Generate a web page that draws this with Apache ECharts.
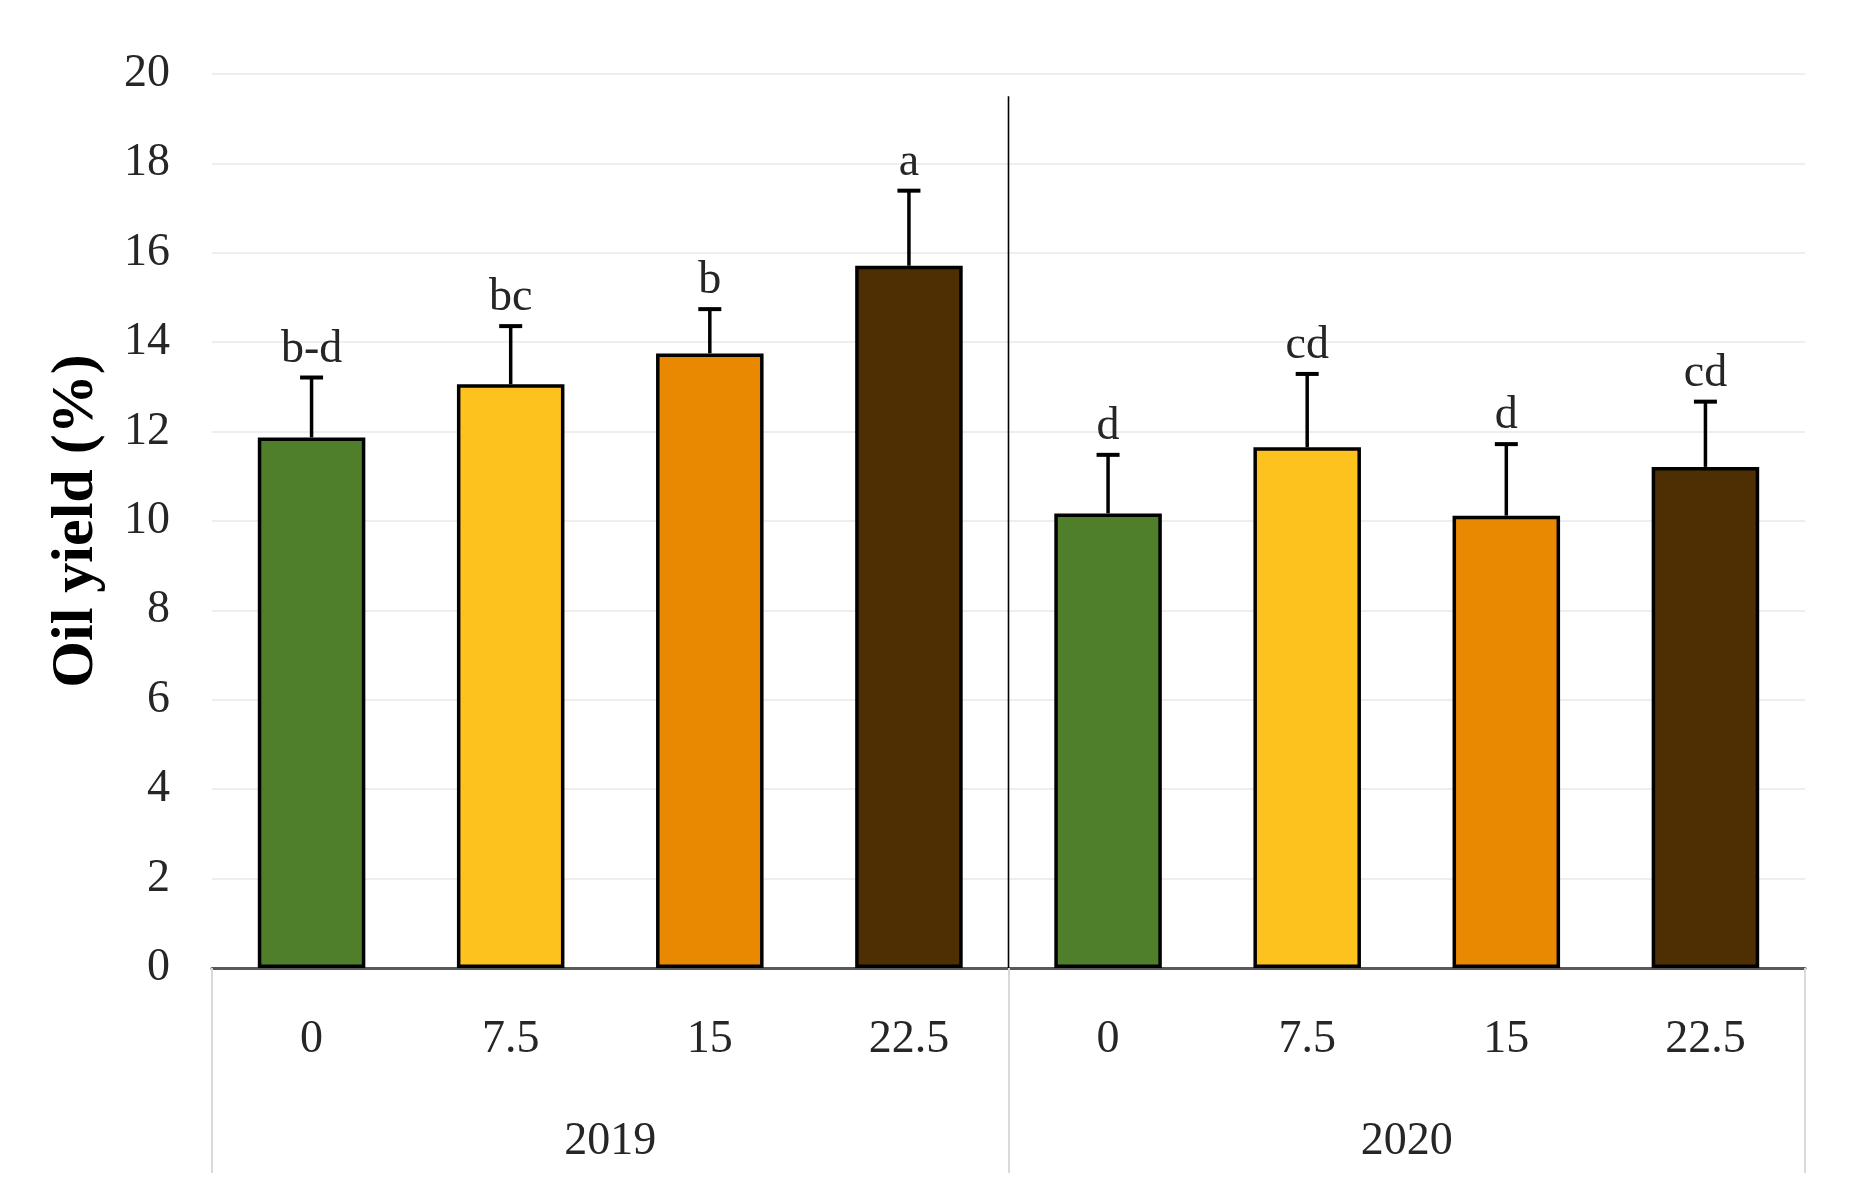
<!DOCTYPE html>
<html>
<head>
<meta charset="utf-8">
<script src="https://cdn.jsdelivr.net/npm/echarts@6/dist/echarts.min.js"></script>
<style>html,body{margin:0;padding:0;background:#fff;}#chart{width:1855px;height:1200px;}</style>
</head>
<body>
<div id="chart"></div>
<script>
const doses = ['0', '7.5', '15', '22.5', '0', '7.5', '15', '22.5'];
const years = ['2019', '2020'];
const oilYield = [11.87, 13.06, 13.75, 15.71, 10.17, 11.65, 10.12, 11.21];
const errorUpper = [13.21, 14.36, 14.74, 17.39, 11.48, 13.29, 11.72, 12.67];
const letters = ['b-d', 'bc', 'b', 'a', 'd', 'cd', 'd', 'cd'];
const barColors = ['#4f7f2b', '#fec21f', '#e88901', '#4d2f03', '#4f7f2b', '#fec21f', '#e88901', '#4d2f03'];
const yTicks = { min: 0, max: 20, interval: 2 };
// divider between the two years: between category 3 and 4, up to this y value
const yearDivider = [[3, 4, 19.5]];

const FONT = '"Liberation Serif", "DejaVu Serif", serif';
const chart = echarts.init(document.getElementById('chart'));

chart.setOption({
  animation: false,
  backgroundColor: '#ffffff',
  grid: { left: 212, right: 50, top: 74, bottom: 232, containLabel: false },
  xAxis: [
    {
      type: 'category',
      data: doses,
      position: 'bottom',
      axisLine: { show: true, lineStyle: { color: '#595959', width: 3 } },
      axisTick: { show: false },
      axisLabel: { fontFamily: FONT, fontSize: 46, color: '#262626', margin: 49 },
      splitLine: { show: false }
    },
    {
      type: 'category',
      data: years,
      position: 'bottom',
      axisLine: { show: false },
      axisTick: { show: true, alignWithLabel: false, length: 205, lineStyle: { color: '#d9d9d9', width: 2 } },
      axisLabel: { fontFamily: FONT, fontSize: 46, color: '#262626', margin: 151 },
      splitLine: { show: false }
    }
  ],
  yAxis: {
    type: 'value',
    min: yTicks.min, max: yTicks.max, interval: yTicks.interval,
    name: 'Oil yield (%)',
    nameLocation: 'middle',
    nameRotate: 90,
    nameGap: 106,
    nameTextStyle: { fontFamily: FONT, fontSize: 60, fontWeight: 'bold', color: '#000' },
    axisLine: { show: false },
    axisTick: { show: false },
    axisLabel: { fontFamily: FONT, fontSize: 46, color: '#262626', margin: 42 },
    splitLine: { show: true, lineStyle: { color: '#eeeeee', width: 2 } }
  },
  series: [
    {
      type: 'bar',
      xAxisIndex: 0,
      barWidth: '54%',
      data: oilYield.map((v, i) => ({ value: v, itemStyle: { color: barColors[i] } })),
      itemStyle: { borderColor: '#000', borderWidth: 3.5 },
      z: 2
    },
    {
      type: 'custom',
      xAxisIndex: 0,
      data: yearDivider,
      renderItem: function (params, api) {
        const a = api.coord([api.value(0), 0]);
        const b = api.coord([api.value(1), 0]);
        const t = api.coord([api.value(0), api.value(2)]);
        const x = (a[0] + b[0]) / 2;
        return { type: 'line', shape: { x1: x, y1: a[1], x2: x, y2: t[1] }, style: { stroke: '#000', lineWidth: 1.6 } };
      },
      z: 1
    },
    {
      type: 'custom',
      xAxisIndex: 0,
      data: oilYield.map((v, i) => [i, v, errorUpper[i]]),
      renderItem: function (params, api) {
        const i = api.value(0);
        const base = api.coord([i, api.value(1)]);
        const top = api.coord([i, api.value(2)]);
        const cap = 11.5;
        return {
          type: 'group',
          children: [
            { type: 'line', shape: { x1: base[0], y1: base[1], x2: top[0], y2: top[1] }, style: { stroke: '#000', lineWidth: 3.5 } },
            { type: 'line', shape: { x1: top[0] - cap, y1: top[1], x2: top[0] + cap, y2: top[1] }, style: { stroke: '#000', lineWidth: 4 } },
            { type: 'text', x: top[0], y: top[1] - 5, style: { text: letters[params.dataIndex], font: '46px ' + FONT, fill: '#262626', textAlign: 'center', textVerticalAlign: 'bottom' } }
          ]
        };
      },
      z: 3
    }
  ]
});
</script>
</body>
</html>
